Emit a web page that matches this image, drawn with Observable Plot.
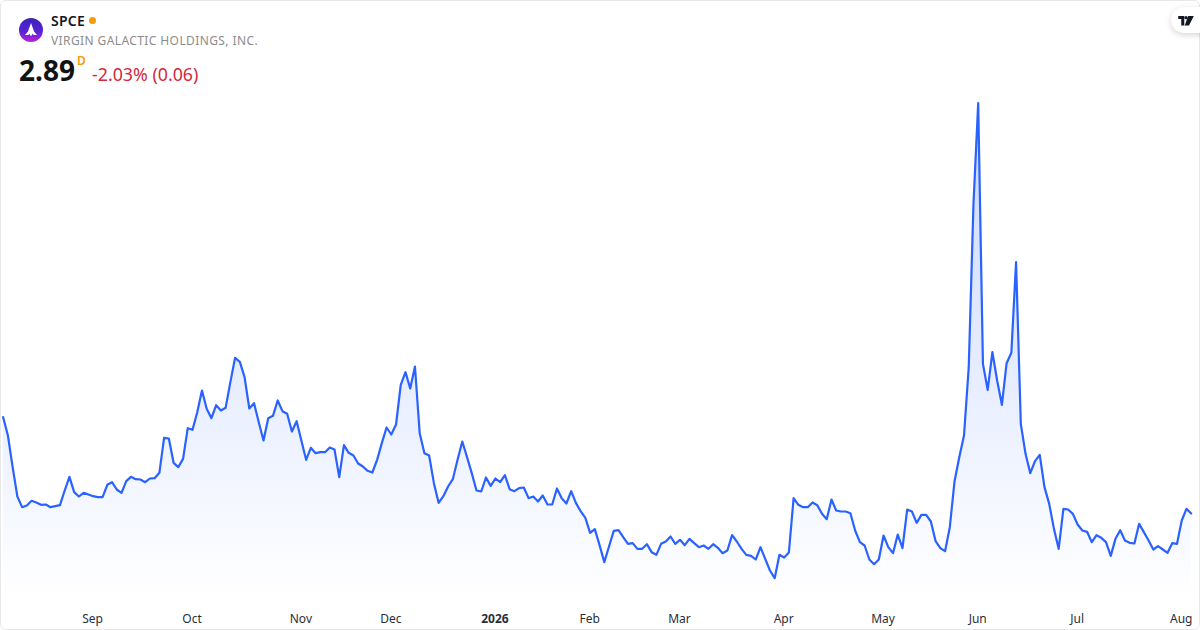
<!DOCTYPE html>
<html><head><meta charset="utf-8">
<script src="https://cdn.jsdelivr.net/npm/d3@7"></script>
<script src="https://cdn.jsdelivr.net/npm/@observablehq/plot@0.6"></script>
<style>
html,body{margin:0;padding:0;background:#fff;}
body{width:1200px;height:630px;overflow:hidden;font-family:"Noto Sans",sans-serif;}
#card{position:relative;width:1200px;height:630px;box-sizing:border-box;overflow:hidden;}
#frame{position:absolute;inset:0;border:1px solid #e8e8e8;border-radius:6px;pointer-events:none;box-sizing:border-box;}
#chart{position:absolute;left:0;top:0;}
.t{position:absolute;white-space:nowrap;line-height:1;}
#sym{left:51px;top:14px;font-size:14px;font-weight:600;color:#131722;letter-spacing:.25px;}
#name{left:51px;top:35px;font-size:12px;color:#8c8c8c;letter-spacing:.4px;}
#price{left:19px;top:56px;font-size:28px;font-weight:700;color:#131313;}
#d{left:77px;top:55px;font-size:12px;font-weight:600;color:#f59a0c;}
#chg{left:92px;top:66px;font-size:17.8px;color:#d1293d;}
#dot{position:absolute;left:88.5px;top:17px;width:7px;height:7px;border-radius:50%;background:#f59a0c;}
#logo{position:absolute;left:19px;top:18px;}
#tv{position:absolute;left:1171px;top:7px;width:44px;height:26px;border-radius:13px;background:#fff;box-shadow:0 2px 6px rgba(0,0,0,.16);}
#tv svg{position:absolute;left:6px;top:9px;}
</style></head>
<body>
<div id="card">
  <div id="chart"></div>
  <div id="frame"></div>
  <svg id="logo" width="24" height="24" viewBox="0 0 24 24">
    <defs><linearGradient id="lg" x1="0" y1="0" x2="0" y2="1"><stop offset="0" stop-color="#3b22b8"/><stop offset=".6" stop-color="#5a24d8"/><stop offset="1" stop-color="#c022d0"/></linearGradient></defs>
    <circle cx="12" cy="12" r="12" fill="url(#lg)"/>
    <path d="M12 5 L14 10.5 L15 13.5 L18 17 L14.6 17 L13.6 15.5 L12.8 17.5 L11.2 17.5 L10.4 15.5 L9.4 17 L6 17 L9 13.5 L10 10.5 Z" fill="#fff"/>
  </svg>
  <div class="t" id="sym">SPCE</div><div id="dot"></div>
  <div class="t" id="name">VIRGIN GALACTIC HOLDINGS, INC.</div>
  <div class="t" id="price">2.89</div>
  <div class="t" id="d">D</div>
  <div class="t" id="chg">-2.03% (0.06)</div>
  <div id="tv"><svg width="18" height="9.5" viewBox="0 0 18 11"><path d="M0 0H7V11H3.5V3.5H0Z M11.5 0H18L12.5 11H7.5Z" fill="#131722"/><circle cx="9" cy="1.9" r="1.9" fill="#131722"/></svg></div>
</div>
<script>
const closes = [
4.046,3.826,3.446,3.094,2.966,2.986,3.042,3.022,2.994,2.998,2.966,2.978,2.990,3.166,3.330,3.146,3.094,3.138,3.118,3.098,
3.086,3.086,3.234,3.266,3.178,3.138,3.278,3.330,3.302,3.298,3.266,3.310,3.314,3.378,3.798,3.790,3.498,3.446,3.546,3.914,
3.894,4.106,4.366,4.146,4.034,4.190,4.126,4.158,4.466,4.758,4.710,4.526,4.150,4.214,3.986,3.766,4.034,4.062,4.246,4.118,
4.086,3.874,3.998,3.766,3.534,3.678,3.614,3.626,3.626,3.682,3.658,3.326,3.710,3.618,3.586,3.490,3.454,3.402,3.382,3.534,
3.734,3.922,3.838,3.958,4.434,4.586,4.390,4.654,3.854,3.614,3.586,3.254,3.018,3.098,3.214,3.302,3.534,3.754,3.566,3.374,
3.166,3.154,3.322,3.222,3.310,3.266,3.350,3.182,3.158,3.194,3.202,3.074,3.094,3.034,3.106,2.998,2.998,3.190,3.074,3.010,
3.158,3.018,2.918,2.838,2.658,2.702,2.510,2.306,2.494,2.682,2.690,2.606,2.526,2.534,2.466,2.466,2.522,2.426,2.394,2.526,
2.554,2.614,2.526,2.574,2.510,2.586,2.534,2.486,2.506,2.466,2.522,2.478,2.414,2.446,2.630,2.554,2.466,2.394,2.382,2.338,
2.486,2.346,2.206,2.114,2.394,2.362,2.422,3.074,2.994,2.966,2.966,3.022,2.990,2.886,2.822,3.058,2.926,2.914,2.914,2.894,
2.686,2.546,2.506,2.338,2.282,2.338,2.626,2.486,2.414,2.638,2.474,2.938,2.914,2.778,2.874,2.874,2.794,2.558,2.474,2.438,
2.726,3.278,3.566,3.826,4.646,6.606,7.814,4.686,4.374,4.826,4.486,4.194,4.694,4.818,5.906,3.966,3.606,3.374,3.518,3.594,
3.206,3.006,2.706,2.466,2.946,2.938,2.886,2.758,2.686,2.670,2.546,2.630,2.598,2.546,2.382,2.586,2.690,2.566,2.538,2.530,
2.766,2.666,2.566,2.458,2.498,2.458,2.418,2.534,2.526,2.806,2.946,2.890];
const tickLabels = ["Sep","Oct","Nov","Dec","Feb","Mar","Apr","May","Jun","Jul","Aug"];
const tickSessions = [19,40,63,82,124,143,165,186,206,227,249];
const yearLabels = ["2026"];
const yearSessions = [104];
const priceFloor = 1.486, priceCeil = 9.046;

const series = closes.map((close,session)=>({session,close}));
const ticks = tickLabels.map((label,i)=>({label,session:tickSessions[i]}));
const years = yearLabels.map((label,i)=>({label,session:yearSessions[i]}));

const NS = "http://www.w3.org/2000/svg";
function gradient(){
  const defs = document.createElementNS(NS,"defs");
  const g = document.createElementNS(NS,"linearGradient");
  g.setAttribute("id","fade");g.setAttribute("gradientUnits","userSpaceOnUse");
  g.setAttribute("x1","0");g.setAttribute("x2","0");g.setAttribute("y1","102");g.setAttribute("y2","600");
  [[0,.25],[1,0]].forEach(([o,a])=>{
    const s=document.createElementNS(NS,"stop");
    s.setAttribute("offset",o);s.setAttribute("stop-color","#2962ff");s.setAttribute("stop-opacity",a);
    g.appendChild(s);
  });
  defs.appendChild(g);return defs;
}
const textStyle = {x:"session",text:"label",frameAnchor:"bottom",dy:-8,dx:-0.5,fontSize:12,fill:"#2a2e39",textAnchor:"middle"};
const plot = Plot.plot({
  width:1200,height:630,
  marginTop:0,marginRight:0,marginBottom:0,marginLeft:0,
  style:{background:"transparent",fontFamily:'"Noto Sans",sans-serif'},
  x:{type:"linear",domain:[0,251],range:[2.67,1190.7],axis:null},
  y:{type:"linear",domain:[priceFloor,priceCeil],range:[630,0],axis:null},
  marks:[
    gradient,
    Plot.areaY(series,{x:"session",y1:priceFloor,y2:"close",fill:"url(#fade)",curve:"linear"}),
    Plot.lineY(series,{x:"session",y:"close",stroke:"#2962ff",strokeWidth:2.2,curve:"linear",strokeLinejoin:"round"}),
    Plot.text(ticks,textStyle),
    Plot.text(years,{...textStyle,fontWeight:700})
  ]
});
document.getElementById("chart").appendChild(plot);
</script>
</body></html>
